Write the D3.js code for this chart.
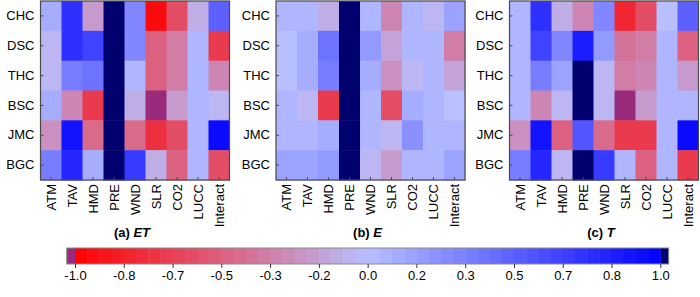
<!DOCTYPE html>
<html>
<head>
<meta charset="utf-8">
<script src="https://cdn.jsdelivr.net/npm/d3@7"></script>
<style>
  body { margin: 0; background: #fff; }
  svg { display: block; font-family: "Liberation Sans", Arial, sans-serif; }
</style>
</head>
<body>
<svg id="chart" width="700" height="297"></svg>
<script>
// categories
const factors = ['ATM', 'TAV', 'HMD', 'PRE', 'WND', 'SLR', 'CO2', 'LUCC', 'Interact'];
const basins = ['CHC', 'DSC', 'THC', 'BSC', 'JMC', 'BGC'];

// correlation values, one row per basin (order of factors)
const etValues = [
  [0.1, 0.75, -0.2, 1, 0.3, -0.95, -0.6, -0.1, 0.5],
  [-0.05, 0.75, 0.65, 1, 0.3, -0.5, -0.35, 0.05, -0.7],
  [-0.05, 0.35, 0.4, 1, 0.05, -0.5, -0.35, 0.05, -0.3],
  [0.1, -0.3, -0.7, 1, -0.1, -1, -0.2, 0.05, -0.05],
  [-0.25, 0.9, -0.45, 1, -0.45, -0.75, -0.6, 0.05, 0.95],
  [0.35, 0.8, 0.1, 1, 0.7, -0.1, -0.5, 0.05, -0.6]
];
const eValues = [
  [0.05, 0.05, -0.1, 1, 0.05, -0.3, 0.05, -0.05, 0.15],
  [0.0, 0.1, 0.4, 1, 0.2, -0.15, 0.05, 0.05, -0.35],
  [0.0, 0.1, 0.35, 1, 0.1, -0.25, -0.05, 0.05, -0.15],
  [0.05, -0.05, -0.7, 1, 0.05, -0.6, 0.1, 0.05, 0.0],
  [0.05, 0.05, 0.1, 1, 0.05, -0.05, 0.25, 0.05, 0.05],
  [0.15, 0.15, 0.2, 1, -0.05, -0.2, 0.05, 0.05, 0.15]
];
const tValues = [
  [0.05, 0.75, -0.1, -0.3, 0.3, -0.8, -0.6, 0.0, 0.5],
  [0.05, 0.65, 0.3, 0.85, 0.2, -0.4, -0.35, 0.05, -0.5],
  [0.05, 0.35, 0.15, 1, -0.05, -0.35, -0.3, 0.05, -0.2],
  [0.05, -0.3, -0.05, 1, -0.05, -1, -0.2, 0.05, 0.05],
  [-0.25, 0.9, -0.5, 0.55, -0.45, -0.7, -0.7, 0.05, 0.95],
  [0.35, 0.8, -0.05, 1, 0.7, 0.05, -0.5, 0.05, -0.7]
];

const panels = [
  { tag: '(a) ', name: 'ET', values: etValues, left: 40.5 },
  { tag: '(b) ', name: 'E', values: eValues, left: 276 },
  { tag: '(c) ', name: 'T', values: tValues, left: 509.5 }
];

// colour bar ticks
const legendTicks = [-1, -5 / 6, -4 / 6, -3 / 6, -2 / 6, -1 / 6, 0, 1 / 6, 2 / 6, 3 / 6, 4 / 6, 5 / 6, 1];
const legendLabels = ['-1.0', '-0.8', '-0.7', '-0.5', '-0.3', '-0.2', '0.0', '0.2', '0.3', '0.5', '0.7', '0.8', '1.0'];

const svg = d3.select('#chart');

const ramp = d3.scaleLinear()
  .domain([-1, 0, 1])
  .range(['#ff0000', '#b8c0ff', '#0000ff'])
  .interpolate(d3.interpolateRgb)
  .clamp(true);

function cellColor(v) {
  if (v >= 1) return '#00006e';
  if (v <= -1) return '#9a2a7c';
  return ramp(v);
}

const panelW = 189;
const plotTop = 1;
const plotBottom = 180;

panels.forEach((p) => {
  const x = d3.scaleBand().domain(factors).range([p.left, p.left + panelW]);
  const y = d3.scaleBand().domain(basins).range([plotTop, plotBottom]);
  const g = svg.append('g');

  const cells = p.values.flatMap((row, i) =>
    row.map((v, j) => ({ basin: basins[i], factor: factors[j], v })));

  g.selectAll('rect.cell')
    .data(cells)
    .enter()
    .append('rect')
    .attr('class', 'cell')
    .attr('x', (d) => x(d.factor))
    .attr('y', (d) => y(d.basin))
    .attr('width', x.bandwidth() + 0.5)
    .attr('height', y.bandwidth() + 0.5)
    .attr('fill', (d) => cellColor(d.v));

  g.append('rect')
    .attr('x', p.left)
    .attr('y', plotTop)
    .attr('width', panelW)
    .attr('height', plotBottom - plotTop)
    .attr('fill', 'none')
    .attr('stroke', '#4a4a4a')
    .attr('stroke-width', 1.2);

  const yAxis = g.append('g')
    .attr('transform', 'translate(' + p.left + ',0)')
    .call(d3.axisLeft(y).tickSize(-3).tickPadding(6));
  yAxis.select('.domain').remove();
  yAxis.selectAll('line').attr('stroke', '#4a4a4a');
  yAxis.selectAll('text')
    .attr('font-size', 13)
    .attr('fill', '#000')
    .attr('font-family', '"Liberation Sans", Arial, sans-serif');

  const xAxis = g.append('g')
    .attr('transform', 'translate(0,' + plotBottom + ')')
    .call(d3.axisBottom(x).tickSize(-3));
  xAxis.select('.domain').remove();
  xAxis.selectAll('line').attr('stroke', '#4a4a4a');
  xAxis.selectAll('text')
    .attr('font-size', 13)
    .attr('fill', '#000')
    .attr('font-family', '"Liberation Sans", Arial, sans-serif')
    .attr('transform', 'rotate(-90)')
    .attr('text-anchor', 'end')
    .attr('x', -4)
    .attr('y', 0)
    .attr('dy', '0.35em');

  const title = g.append('text')
    .attr('x', p.left + panelW / 2 - 3)
    .attr('y', 236.5)
    .attr('text-anchor', 'middle')
    .attr('font-size', 13)
    .attr('font-weight', 'bold');
  title.append('tspan').text(p.tag);
  title.append('tspan').attr('font-style', 'italic').text(p.name);
});

// colour bar
const lx = d3.scaleLinear().domain([-1, 1]).range([75, 660.3]);
const barTop = 248;
const barH = 16;
const steps = d3.range(-1, 1, 2 / 48);

const leg = svg.append('g');
leg.append('rect')
  .attr('x', lx(-1) - 8.3)
  .attr('y', barTop)
  .attr('width', 8.3)
  .attr('height', barH)
  .attr('fill', cellColor(-1));
leg.append('rect')
  .attr('x', lx(1))
  .attr('y', barTop)
  .attr('width', 8.4)
  .attr('height', barH)
  .attr('fill', cellColor(1));
leg.selectAll('rect.step')
  .data(steps)
  .enter()
  .append('rect')
  .attr('class', 'step')
  .attr('x', (d) => lx(d))
  .attr('y', barTop)
  .attr('width', lx(2 / 48) - lx(0) + 0.5)
  .attr('height', barH)
  .attr('fill', (d) => ramp(d + 1 / 48));
leg.append('rect')
  .attr('x', lx(-1) - 8.3)
  .attr('y', barTop)
  .attr('width', lx(1) - lx(-1) + 16.7)
  .attr('height', barH)
  .attr('fill', 'none')
  .attr('stroke', '#8a8a8a')
  .attr('stroke-width', 1);

const legAxis = leg.append('g')
  .attr('transform', 'translate(0,' + (barTop + barH) + ')')
  .call(d3.axisBottom(lx)
    .tickValues(legendTicks)
    .tickFormat((d, i) => legendLabels[i])
    .tickSize(4)
    .tickPadding(3));
legAxis.select('.domain').remove();
legAxis.selectAll('line').attr('stroke', '#333');
legAxis.selectAll('text')
  .attr('font-size', 13)
  .attr('fill', '#000')
  .attr('font-family', '"Liberation Sans", Arial, sans-serif');
</script>
</body>
</html>
